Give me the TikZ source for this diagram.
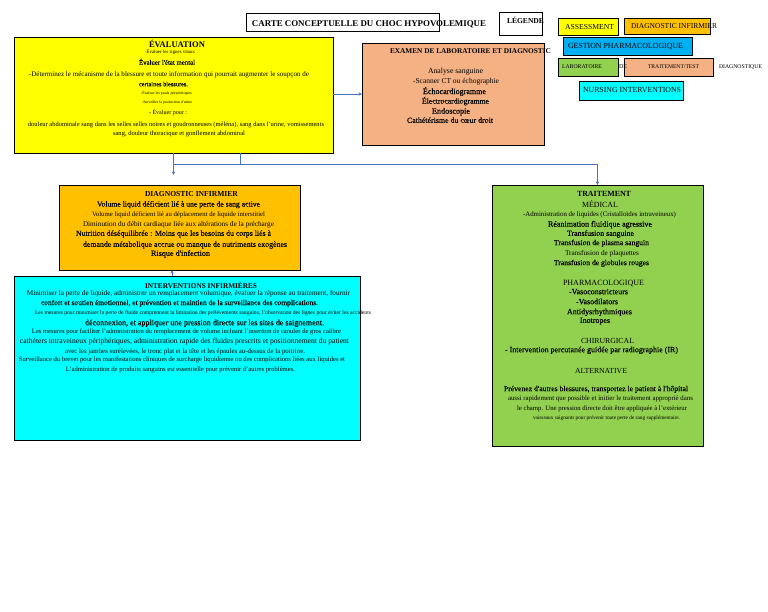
\documentclass[tikz,border=0pt]{standalone}
\usepackage{fontspec}
\setmainfont{Liberation Serif}
\newfontfamily\hv{Liberation Serif}[FakeBold=0.25]
\usepackage{graphicx}
\usetikzlibrary{arrows.meta}
\definecolor{cyel}{HTML}{FFFF00}
\definecolor{corg}{HTML}{FFC000}
\definecolor{cblu}{HTML}{00B0F0}
\definecolor{cgrn}{HTML}{92D050}
\definecolor{csal}{HTML}{F4B183}
\definecolor{ccya}{HTML}{00FFFF}
\definecolor{carr}{HTML}{4472C4}
\newcounter{tlc}
\newcommand\tline[4]{\stepcounter{tlc}\node[txt] (t\arabic{tlc}) at (#1,#2+1) {\resizebox{#3pt}{!}{\strut #4}};}
\tikzset{
  box/.style={draw=black, line width=0.8pt, inner sep=0pt, outer sep=0pt, rectangle},
  txt/.style={inner sep=0pt, outer sep=0pt},
  conn/.style={draw=carr, line width=0.6pt},
  arr/.style={conn, -{Stealth[length=3.5pt,width=3.2pt]}}
}
\begin{document}
\begin{tikzpicture}[x=1pt,y=-1pt]
\useasboundingbox[fill=white] (0,0) rectangle (768,612);
% boxes
\node[box, fill=white, minimum width=193pt, minimum height=18pt] (title) at (342.5,22) {};
\node[box, fill=white, minimum width=43pt, minimum height=23pt] (legende) at (520.5,23.5) {};
\node[box, fill=cyel, minimum width=60pt, minimum height=17pt] (lassess) at (588,26.5) {};
\node[box, fill=corg, minimum width=86pt, minimum height=16pt] (ldiag) at (667,26) {};
\node[box, fill=cblu, minimum width=129pt, minimum height=18pt] (lgest) at (627.5,46) {};
\node[box, fill=cgrn, minimum width=60pt, minimum height=18pt] (llabo) at (588,67) {};
\node[box, fill=csal, minimum width=89pt, minimum height=18pt] (ltrt) at (668.5,67) {};
\node[box, fill=ccya, minimum width=104pt, minimum height=19pt] (lnurs) at (631,90.5) {};
\node[box, fill=cyel, minimum width=319pt, minimum height=116pt] (eval) at (173.5,95) {};
\node[box, fill=csal, minimum width=182pt, minimum height=102pt] (lab) at (453,94) {};
\node[box, fill=corg, minimum width=241pt, minimum height=85pt] (diag) at (179.5,227.5) {};
\node[box, fill=ccya, minimum width=346pt, minimum height=164pt] (interv) at (187,358) {};
\node[box, fill=cgrn, minimum width=211pt, minimum height=261pt] (trait) at (597.5,315.5) {};
% connectors
\coordinate (d1) at (173.5,175);
\coordinate (j1) at (173.5,164);
\coordinate (j2) at (240,164);
\coordinate (k1) at (172,0);
\draw[arr] (eval.east |- lab.west) -- (lab.west);
\draw[arr] (eval.south) -- (d1);
\draw[arr] (j1) -| (trait.north);
\draw[conn] (j2 |- eval.south) -- (j2);
\draw[arr] (interv.north -| k1) -- (diag.south -| k1);
% legend texts
\tline{369}{23}{234}{\textbf{CARTE CONCEPTUELLE DU CHOC HYPOVOLEMIQUE}}
\tline{525.5}{20.7}{37}{\textbf{LÉGENDE}}
\tline{589.5}{27}{49}{ASSESSMENT}
\tline{674}{26}{86}{DIAGNOSTIC INFIRMIER}
\tline{625.5}{46}{115}{GESTION PHARMACOLOGIQUE}
\tline{582}{66}{40}{LABORATOIRE}
\tline{623}{66.5}{8}{DE}
\tline{673.5}{66}{51}{TRAITEMENT/TEST}
\tline{740.5}{66.5}{43}{DIAGNOSTIQUE}
\tline{632}{90}{98}{NURSING INTERVENTIONS}
% evaluation
\tline{177}{44.3}{56}{\textbf{ÉVALUATION}}
\tline{170}{51.7}{50}{-Évaluer les signes vitaux}
\tline{167}{62}{56}{\hv Évaluer l'état mental}
\tline{169}{74.3}{280}{-Déterminez le mécanisme de la blessure et toute information qui pourrait augmenter le soupçon de}
\tline{163.5}{83.7}{49}{\hv certaines blessures.}
\tline{166.5}{92.7}{51}{-Évaluer les pouls périphériques}
\tline{167}{101.7}{50}{-Surveiller la production d'urine}
\tline{168}{112}{38}{- Évaluer pour :}
\tline{176}{124.3}{296}{douleur abdominale sang dans les selles selles noires et goudronneuses (méléna), sang dans l'urine, vomissements}
\tline{179}{133.3}{132}{sang, douleur thoracique et gonflement abdominal}
% lab
\tline{470.5}{51}{161}{\textbf{EXAMEN DE LABORATOIRE ET DIAGNOSTIC}}
\tline{455.5}{71}{55}{Analyse sanguine}
\tline{456}{81}{86}{-Scanner CT ou échographie}
\tline{454.5}{91}{63}{\hv Échocardiogramme}
\tline{455.5}{100.7}{67}{\hv Électrocardiogramme}
\tline{451}{110.7}{38}{\hv Endoscopie}
\tline{450}{120}{86}{\hv Cathétérisme du cœur droit}
% diagnostic
\tline{191.5}{194}{93}{\textbf{DIAGNOSTIC INFIRMIER}}
\tline{178.5}{203.7}{163}{\hv Volume liquid déficient lié à une perte de sang active}
\tline{178.5}{213.7}{173}{Volume liquid déficient lié au déplacement de liquide interstitiel}
\tline{178.5}{223.7}{191}{Diminution du débit cardiaque liée aux altérations de la précharge}
\tline{173.5}{233}{195}{\hv Nutrition déséquilibrée : Moins que les besoins du corps liés à}
\tline{185}{244}{204}{\hv demande métabolique accrue ou manque de nutriments exogènes}
\tline{180.5}{253}{59}{\hv Risque d'infection}
% interventions
\tline{201}{285.3}{112}{\textbf{INTERVENTIONS INFIRMIÈRES}}
\tline{188.5}{292.3}{323}{Minimiser la perte de liquide, administrer un remplacement volumique, évaluer la réponse au traitement, fournir}
\tline{179.5}{302.3}{277}{\hv confort et soutien émotionnel, et prévention et maintien de la surveillance des complications.}
\tline{203}{311.7}{336}{Les mesures pour minimiser la perte de fluide comprennent la limitation des prélèvements sanguins, l'observation des lignes pour éviter les accidents}
\tline{204.5}{322.3}{239}{\hv déconnexion, et appliquer une pression directe sur les sites de saignement.}
\tline{186.5}{331}{309}{Les mesures pour faciliter l'administration du remplacement de volume incluant l'insertion de canules de gros calibre}
\tline{184.5}{340.7}{329}{cathéters intraveineux périphériques, administration rapide des fluides prescrits et positionnement du patient}
\tline{185}{350.7}{240}{avec les jambes surélevées, le tronc plat et la tête et les épaules au-dessus de la poitrine.}
\tline{182}{359.3}{326}{Surveillance du brevet pour les manifestations cliniques de surcharge liquidienne ou des complications liées aux liquides et}
\tline{180.5}{369.3}{229}{L'administration de produits sanguins est essentielle pour prévenir d'autres problèmes.}
% traitement
\tline{604}{194}{54}{\textbf{TRAITEMENT}}
\tline{600}{204.7}{36}{MÉDICAL}
\tline{599.5}{213.7}{153}{-Administration de liquides (Cristalloïdes intraveineux)}
\tline{600}{223.7}{104}{\hv Réanimation fluidique agressive}
\tline{600.5}{233}{67}{\hv Transfusion sanguine}
\tline{601.5}{242.3}{95}{\hv Transfusion de plasma sanguin}
\tline{602}{253}{74}{Transfusion de plaquettes}
\tline{601.5}{262.3}{95}{\hv Transfusion de globules rouges}
\tline{603.5}{283}{81}{PHARMACOLOGIQUE}
\tline{598.5}{291.3}{59}{\hv -Vasoconstricteurs}
\tline{597}{301.3}{42}{\hv -Vasodilators}
\tline{599.5}{311.3}{65}{\hv Antidysrhythmiques}
\tline{595}{320}{30}{\hv Inotropes}
\tline{607.5}{341}{53}{CHIRURGICAL}
\tline{591.5}{349.3}{173}{\hv - Intervention percutanée guidée par radiographie (IR)}
\tline{601}{371}{52}{ALTERNATIVE}
\tline{596}{388.3}{184}{\hv Prévenez d'autres blessures, transportez le patient à l'hôpital}
\tline{600.5}{397.7}{185}{aussi rapidement que possible et initier le traitement approprié dans}
\tline{602}{408.3}{170}{le champ. Une pression directe doit être appliquée à l'extérieur}
\tline{606.5}{417.7}{147}{vaisseaux saignants pour prévenir toute perte de sang supplémentaire.}
\end{tikzpicture}
\end{document}
